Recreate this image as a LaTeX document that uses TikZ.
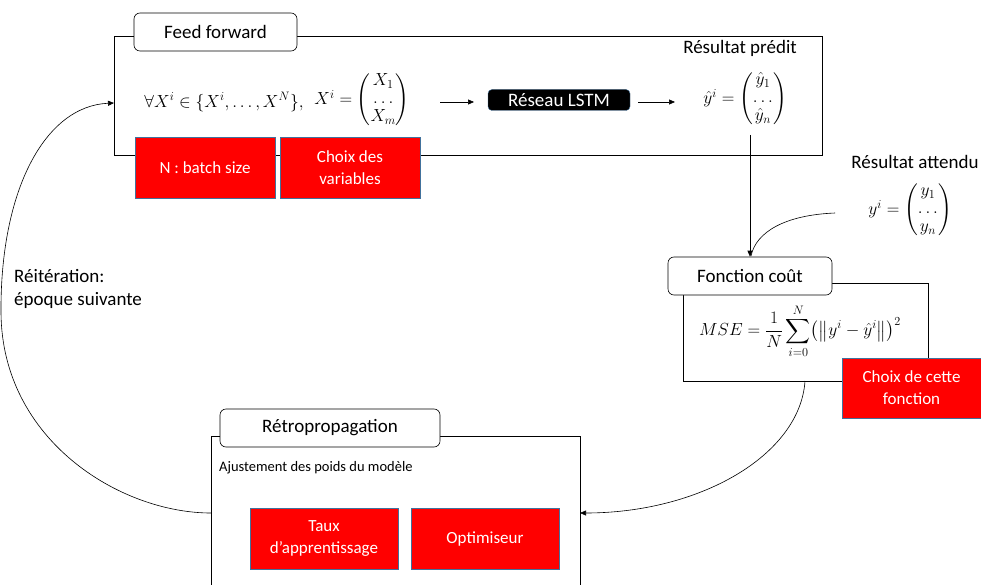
\RequirePackage{fix-cm}
\documentclass[tikz,border=0pt]{standalone}
\usepackage{amsmath}
\usepackage{fontspec}
\setmainfont{Carlito}
\usetikzlibrary{arrows.meta,calc}
\definecolor{redborder}{RGB}{65,113,156}
\begin{document}
\begin{tikzpicture}[x=1pt,y=-1pt,
  frame/.style={draw=black,line width=0.8pt,inner sep=0pt,anchor=north west},
  tab/.style={draw=black,rounded corners=6pt,fill=white,line width=0.6pt,
    font=\fontsize{19}{22}\selectfont,inner sep=0pt},
  redbox/.style={draw=redborder,fill=red,text=white,line width=0.6pt,
    font=\fontsize{17}{22}\selectfont,align=center,inner sep=0pt},
  lbl/.style={font=\fontsize{19}{23}\selectfont,inner sep=0pt},
  mth/.style={font=\fontsize{17.5}{21}\selectfont,inner sep=0pt},
  arr/.style={-{Triangle[length=6pt,width=5pt]},line width=0.6pt},
  link/.style={line width=0.6pt}]
\useasboundingbox (0,0) rectangle (981,585);

% ---------- Feed forward ----------
\node[frame,minimum width=708pt,minimum height=119pt] (ff) at (114,36) {};
\node[tab,minimum width=163pt,minimum height=38pt] (fft) at (215.5,32) {Feed forward};
\node[redbox,minimum width=140pt,minimum height=61pt] (nbs) at (205,167.5) {N : batch size};
\node[redbox,minimum width=140pt,minimum height=61pt] (cv) at (350,167.5) {Choix des\\variables};
\node[mth] (forall) at (224,102) {$\forall X^i \in \{X^i, \ldots, X^N\},$};
\node[mth] (xvec) at (362,100) {$X^i = \renewcommand{\arraystretch}{0.85}\begin{pmatrix} X_1\\ \ldots\\ X_m\end{pmatrix}$};
\node[draw=redborder,fill=black,rounded corners=4pt,text=white,
  minimum width=142pt,minimum height=21pt,inner sep=0pt,
  font=\fontsize{19}{22}\selectfont] (lstm) at (559,100) {Réseau LSTM};
\node[mth] (yhat) at (745,99) {$\hat{y}^i = \renewcommand{\arraystretch}{0.85}\begin{pmatrix} \hat{y}_1\\ \ldots\\ \hat{y}_n\end{pmatrix}$};
\node[lbl] (rp) at (740,48) {Résultat prédit};
\coordinate (a1s) at (440,102);
\coordinate (a1e) at (474,102);
\draw[arr] (a1s) -- (a1e);
\coordinate (a2s) at (638,102);
\coordinate (a2e) at (675,102);
\draw[arr] (a2s) -- (a2e);

% ---------- Résultat attendu ----------
\node[lbl] (ra) at (915,162) {Résultat attendu};
\node[mth] (yexp) at (910,210) {$y^i = \renewcommand{\arraystretch}{0.85}\begin{pmatrix} y_1\\ \ldots\\ y_n\end{pmatrix}$};

% ---------- Fonction coût ----------
\node[frame,minimum width=245pt,minimum height=98pt] (mse) at (683,283) {};
\node[tab,minimum width=164pt,minimum height=38pt] (fct) at (750,276) {Fonction coût};
\node[mth] (msef) at (800,331) {$MSE = \dfrac{1}{N}\displaystyle\sum_{i=0}^{N}\bigl(\bigl\|y^i - \hat{y}^i\bigr\|\bigr)^2$};
\node[redbox,minimum width=139pt,minimum height=60pt] (cf) at (911.5,388) {Choix de cette\\fonction};

\coordinate (ydown) at (750,135);
\draw[arr] (ydown) -- (fct.north);
\coordinate (ein) at (835,213);
\coordinate (emerge) at (751,256);
\draw[link] (ein) .. controls (785,215) and (756,232) .. (emerge);

% ---------- Rétropropagation ----------
\node[inner sep=0pt,minimum width=369pt,minimum height=149pt,anchor=north west] (bp) at (211,436) {};
\draw[line width=0.8pt] (bp.south west) -- (bp.north west) -- (bp.north east) -- (bp.south east);
\node[tab,minimum width=220pt,minimum height=38pt] (bpt) at (330,428) {Rétropropagation};
\node[font=\fontsize{14.5}{18}\selectfont,inner sep=0pt,anchor=west] (aj) at (219,468) {Ajustement des poids du modèle};
\node[redbox,minimum width=148pt,minimum height=61pt] (taux) at (324,538.5) {Taux\\d’apprentissage};
\node[redbox,minimum width=148pt,minimum height=61pt] (opt) at (485,538.5) {Optimiseur};

\coordinate (mseout) at (805,381);
\coordinate (bpin) at (580,513);
\draw[arr] (mseout) .. controls (800,455) and (700,513) .. (bpin);

% ---------- Réitération ----------
\coordinate (bpout) at (211,513);
\coordinate (mid) at (1,313);
\coordinate (ffin) at (114,103);
\draw[arr] (bpout) .. controls (120,513) and (2,440) .. (mid)
  .. controls (0,190) and (45,106) .. (ffin);
\node[lbl,anchor=north west,align=left] (reit) at (14,269) {Réitération:\\époque suivante};
\end{tikzpicture}
\end{document}
